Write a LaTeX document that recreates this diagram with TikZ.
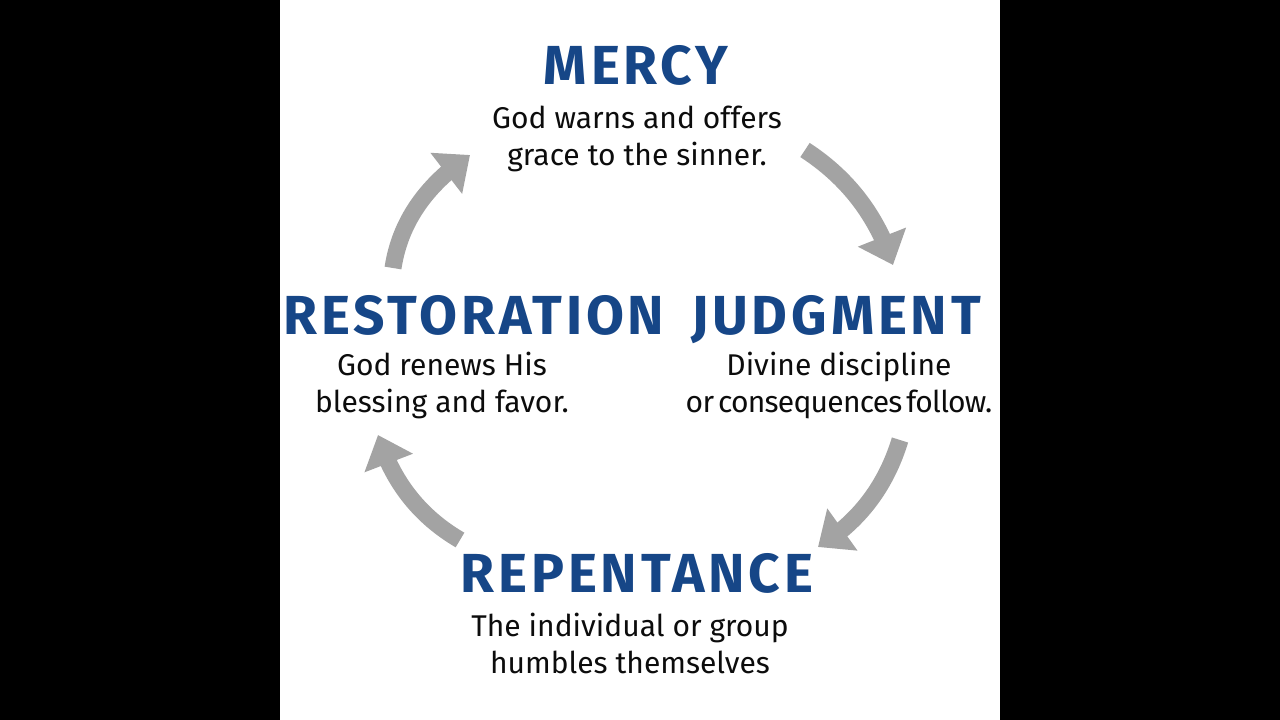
\documentclass[tikz,border=0pt]{standalone}
\usepackage{fontspec}
\setmainfont{Fira Sans}
\newfontfamily\titlefont{Fira Sans}[LetterSpace=7]
\usetikzlibrary{arrows.meta,bending}
\definecolor{titleblue}{RGB}{22,70,135}
\definecolor{arrowgray}{RGB}{163,163,163}
\definecolor{bodyblack}{RGB}{12,12,12}
\tikzset{
  titletext/.style={font=\titlefont\bfseries\fontsize{55}{60}\selectfont, text=titleblue, inner sep=0pt, anchor=base},
  bodytext/.style={font=\fontsize{30}{37}\selectfont, text=bodyblack, align=center, inner sep=0pt},
  cyc/.style={draw=arrowgray, line width=17pt, -{Triangle[length=30pt,width=50pt,flex]}}
}
\begin{document}
\begin{tikzpicture}[x=1pt,y=-1pt]
\useasboundingbox (0,0) rectangle (1280,720);
\fill[black] (0,0) rectangle (1280,720);
\fill[white] (280,0) rectangle (1000,720);
% titles
\node[titletext] (mercy) at (636,84) {MERCY};
\node[titletext] (judgment) at (836,334) {JUDGMENT};
\node[titletext] (repentance) at (637,592) {REPENTANCE};
\node[titletext] (restoration) at (474,334) {RESTORATION};
% descriptions
\node[bodytext] (mercyT) at (637,139) {God warns and offers\\grace to the sinner.};
\node[bodytext] (judgmentT) at (839,385) {Divine discipline\\{\addfontfeature{LetterSpace=-2.5}\spaceskip=4pt or consequences follow.}};
\node[bodytext] (repentanceT) at (630,643) {The individual or group\\humbles themselves};
\node[bodytext] (restorationT) at (442,385) {God renews His\\blessing and favor.};
% arrow ends and bends
\coordinate (a1s) at (393,268); \coordinate (a1c) at (400,222); \coordinate (a1d) at (426,185); \coordinate (a1e) at (470,155);
\coordinate (a2s) at (805,150); \coordinate (a2c) at (848,178); \coordinate (a2d) at (877,216); \coordinate (a2e) at (893,265);
\coordinate (a3s) at (900,440); \coordinate (a3c) at (886,486); \coordinate (a3d) at (859,522); \coordinate (a3e) at (818,547);
\coordinate (a4s) at (460,540); \coordinate (a4c) at (419,516); \coordinate (a4d) at (392,481); \coordinate (a4e) at (378,435);
\draw[cyc] (a1s) .. controls (a1c) and (a1d) .. (a1e);
\draw[cyc] (a2s) .. controls (a2c) and (a2d) .. (a2e);
\draw[cyc] (a3s) .. controls (a3c) and (a3d) .. (a3e);
\draw[cyc] (a4s) .. controls (a4c) and (a4d) .. (a4e);
\end{tikzpicture}
\end{document}
